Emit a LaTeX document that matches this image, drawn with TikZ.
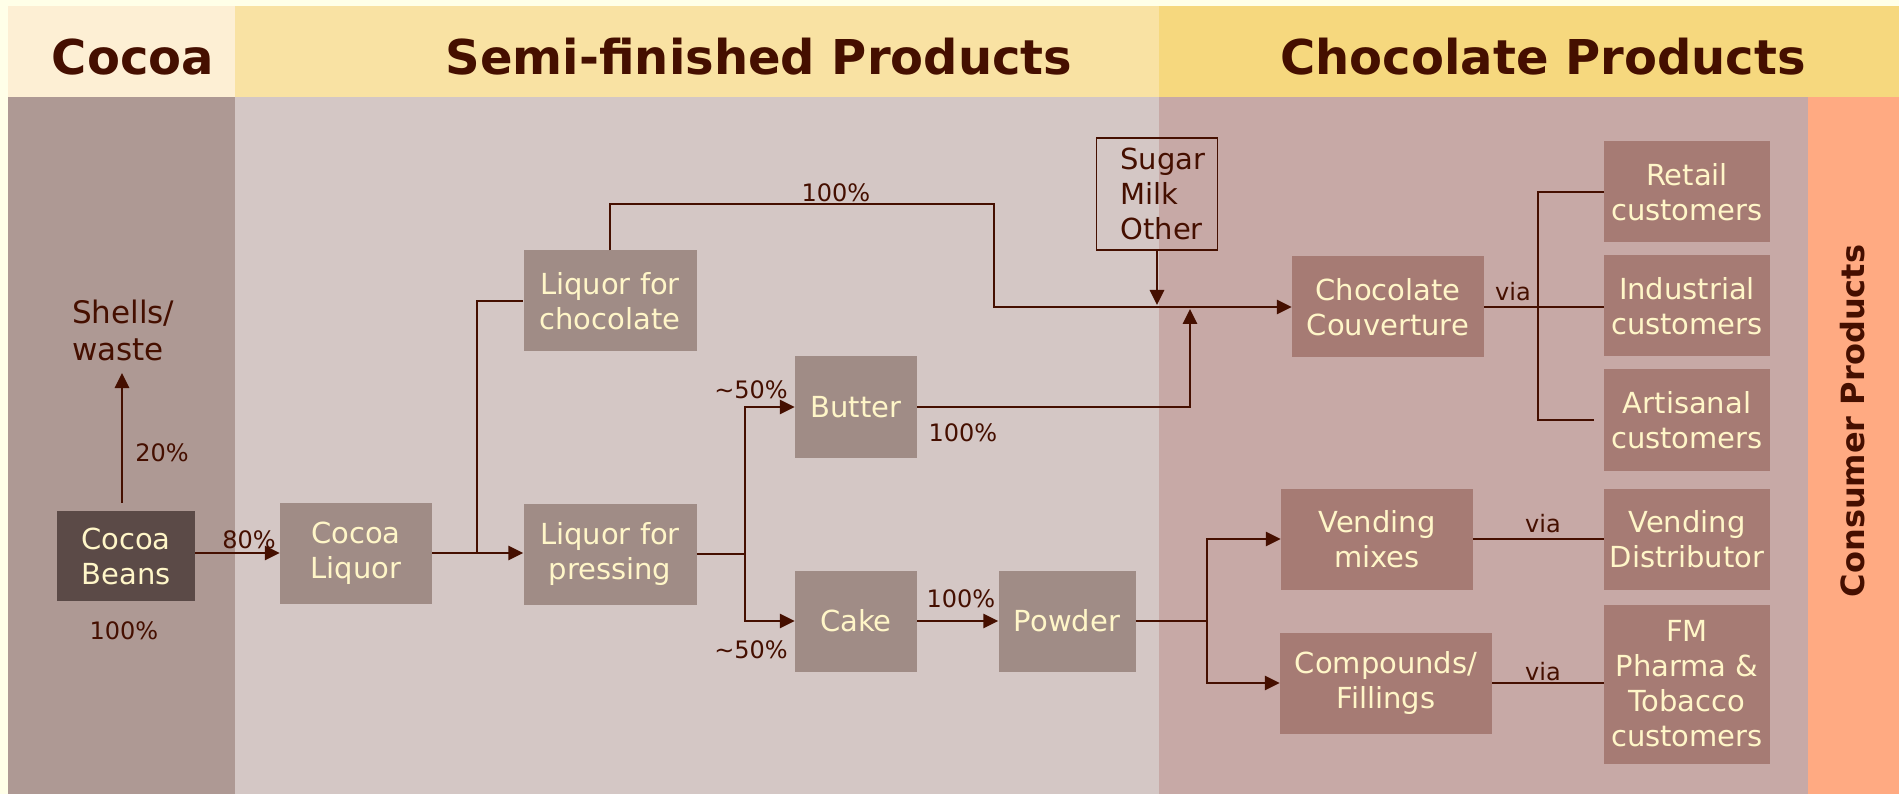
\documentclass[tikz,border=0pt]{standalone}
\usepackage{fontspec}
\setmainfont{DejaVu Sans}
\usetikzlibrary{arrows.meta}

\definecolor{pagecream}{HTML}{FFFFE8}
\definecolor{cocoahead}{HTML}{FDEFD4}
\definecolor{semihead}{HTML}{F9E2A3}
\definecolor{chochead}{HTML}{F6D87E}
\definecolor{cocoabody}{HTML}{AE9994}
\definecolor{semibody}{HTML}{D4C7C5}
\definecolor{chocbody}{HTML}{C7A9A6}
\definecolor{consumer}{HTML}{FFAA82}
\definecolor{beanfill}{HTML}{5B4A47}
\definecolor{semifill}{HTML}{A08C86}
\definecolor{chocfill}{HTML}{A67B74}
\definecolor{darkbrown}{HTML}{450F00}
\definecolor{lighttext}{HTML}{FFF6C8}

\begin{document}
\begin{tikzpicture}
  [x=1pt, y=-1pt,
   every node/.style={inner sep=0pt, text=darkbrown, font=\fontsize{24}{29}\selectfont},
   heading/.style={font=\fontsize{48}{56}\selectfont\bfseries},
   semibox/.style={fill=semifill, text=lighttext, align=center, minimum height=101pt,
                   font=\fontsize{29}{35}\selectfont},
   beanbox/.style={semibox, fill=beanfill, minimum height=90pt},
   chocbox/.style={semibox, fill=chocfill},
   addbox/.style={draw=darkbrown, line width=1.6pt, align=left, text width=73pt,
                  minimum width=121pt, minimum height=112pt, font=\fontsize{29}{35}\selectfont},
   link/.style={draw=darkbrown, line width=2.7pt},
   flow/.style={link, -{Triangle[length=15pt, width=14pt]}}]

  \fill[pagecream] (0,0) rectangle (1899,794);
  \fill[cocoahead] (8,6) rectangle (235,97);
  \fill[semihead] (235,6) rectangle (1159,97);
  \fill[chochead] (1159,6) rectangle (1899,97);
  \fill[cocoabody] (8,97) rectangle (235,794);
  \fill[semibody] (235,97) rectangle (1159,794);
  \fill[chocbody] (1159,97) rectangle (1808,794);
  \fill[consumer] (1808,97) rectangle (1899,794);

  \node[heading] (hcocoa) at (133,57) {Cocoa};
  \node[heading] (hsemi) at (759,57) {Semi-finished Products};
  \node[heading] (hchoc) at (1543,57) {Chocolate Products};
  \node[heading, font=\fontsize{32}{38}\selectfont\bfseries, rotate=90] (hcons) at (1853,421) {Consumer Products};

  \node[beanbox, minimum width=138pt] (beans) at (126,556) {Cocoa\\Beans};
  \node[semibox, minimum width=152pt] (liquor) at (356,553) {Cocoa\\Liquor};
  \node[semibox, minimum width=173pt] (liqchoc) at (610,301) {Liquor for\\chocolate};
  \node[semibox, minimum width=173pt] (liqpress) at (610,554) {Liquor for\\pressing};
  \node[semibox, minimum width=122pt] (butter) at (856,407) {Butter};
  \node[semibox, minimum width=122pt] (cake) at (856,621) {Cake};
  \node[semibox, minimum width=137pt] (powder) at (1067,621) {Powder};
  \node[addbox] (sugar) at (1157,194) {Sugar\\Milk\\Other};

  \node[chocbox, minimum width=192pt] (couv) at (1388,307) {Chocolate\\Couverture};
  \node[chocbox, minimum width=166pt] (retail) at (1687,192) {Retail\\customers};
  \node[chocbox, minimum width=166pt] (industrial) at (1687,306) {Industrial\\customers};
  \node[chocbox, minimum width=166pt] (artisanal) at (1687,420) {Artisanal\\customers};
  \node[chocbox, minimum width=192pt] (vmixes) at (1377,539) {Vending\\mixes};
  \node[chocbox, minimum width=166pt] (vdist) at (1687,539) {Vending\\Distributor};
  \node[chocbox, minimum width=212pt] (compounds) at (1386,683) {Compounds/\\Fillings};
  \node[chocbox, minimum width=166pt, minimum height=159pt] (fm) at (1687,684) {FM\\Pharma \&\\Tobacco\\customers};

  \node[anchor=west, align=left, font=\fontsize{31}{37}\selectfont] (shells) at (72,330) {Shells/\\waste};
  \node (p20) at (162,453) {20\%};
  \node (p100beans) at (124,631) {100\%};
  \node (p80) at (249,540) {80\%};
  \node (p100top) at (836,193) {100\%};
  \node (p50butter) at (751,390) {\textasciitilde50\%};
  \node (p50cake) at (751,650) {\textasciitilde50\%};
  \node (p100butter) at (963,433) {100\%};
  \node (p100cake) at (961,599) {100\%};
  \node (via1) at (1513,292) {via};
  \node (via2) at (1543,524) {via};
  \node (via3) at (1543,672) {via};

  \coordinate (shellsin) at (122,373);
  \coordinate (split1) at (477,553);
  \coordinate (topright) at (994,204);
  \coordinate (butterup) at (1190,309);
  \coordinate (split2) at (745,554);
  \coordinate (split3) at (1207,621);
  \coordinate (split4) at (1538,306);

  \draw[flow, shorten <=8pt] (shellsin |- beans.north) -- (shellsin);
  \draw[flow] (beans.east |- liquor) -- (liquor.west);
  \draw[flow] (liquor.east) -- (liquor.east -| liqpress.west);
  \draw[link] (split1) |- (liqchoc.west);
  \draw[flow] (liqchoc.north) |- (topright) |- (couv.west);
  \draw[flow, shorten >=2pt] (sugar.south) -- (sugar.south |- couv.west);
  \draw[flow] (butter.east) -| (butterup);
  \draw[link] (liqpress.east) -- (split2);
  \draw[flow] (split2) |- (butter.west);
  \draw[flow] (split2) |- (cake.west);
  \draw[flow] (cake) -- (powder);
  \draw[link] (powder.east) -- (split3);
  \draw[flow] (split3) |- (vmixes.west);
  \draw[flow] (split3) |- (compounds.west);
  \draw[link] (couv.east) -- (couv.east -| industrial.west);
  \draw[link] (retail.west) -| (split4) |- ([xshift=-10pt]artisanal.west);
  \draw[link] (vmixes) -- (vdist);
  \draw[link] (compounds.east) -- (compounds.east -| fm.west);
\end{tikzpicture}
\end{document}
